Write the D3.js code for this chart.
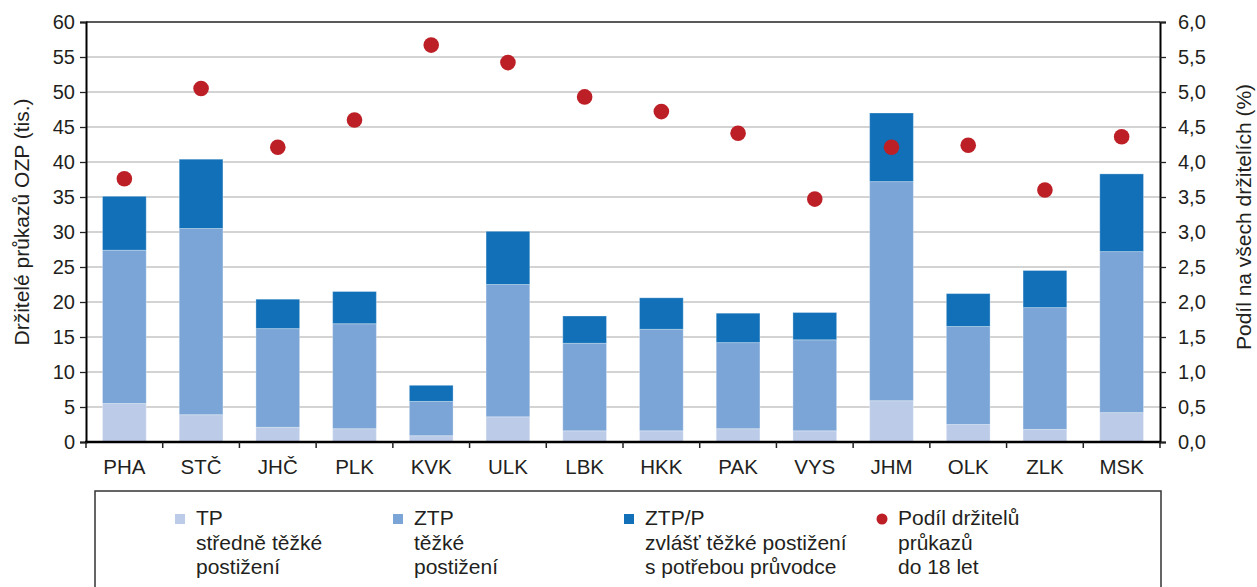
<!DOCTYPE html>
<html><head><meta charset="utf-8">
<script src="https://cdn.jsdelivr.net/npm/d3@7"></script>
<style>
body{margin:0;background:#fff;}
svg{display:block;font-family:"Liberation Sans",Arial,sans-serif;}
</style></head>
<body><svg id="c" width="1257" height="587"></svg>
<script>
const categories = ["PHA","STČ","JHČ","PLK","KVK","ULK","LBK","HKK","PAK","VYS","JHM","OLK","ZLK","MSK"];
const tpValues   = [5.5, 3.9, 2.1, 1.9, 0.9, 3.6, 1.6, 1.6, 1.9, 1.6, 5.9, 2.5, 1.8, 4.2];
const ztpValues  = [21.9, 26.6, 14.1, 15.0, 4.9, 18.9, 12.5, 14.5, 12.3, 13.0, 31.3, 14.0, 17.4, 23.0];
const ztppValues = [7.7, 9.9, 4.2, 4.6, 2.3, 7.6, 3.9, 4.5, 4.2, 3.9, 9.8, 4.7, 5.3, 11.1];
const shareValues = [3.76, 5.05, 4.21, 4.60, 5.67, 5.42, 4.93, 4.72, 4.41, 3.47, 4.21, 4.24, 3.60, 4.36];
const leftTicks = [0,5,10,15,20,25,30,35,40,45,50,55,60];
const rightTicks = [0,0.5,1,1.5,2,2.5,3,3.5,4,4.5,5,5.5,6];
const seriesKeys = ["TP","ZTP","ZTP/P"];
const seriesColors = ["#bccbe8","#7ba5d6","#1170b8"];
const dotColor = "#bd1f26";
const legendLines = [
  ["TP","středně těžké","postižení"],
  ["ZTP","těžké","postižení"],
  ["ZTP/P","zvlášť těžké postižení","s potřebou průvodce"],
  ["Podíl držitelů","průkazů","do 18 let"]
];

const FS = 20, FX = 20.5, FT = 21, FL = 21;
const svg = d3.select("#c");
const L = 86, R = 1160, T = 22, B = 442;
const textColor = "#231f20";

const x = d3.scaleBand().domain(categories).range([L, R]).paddingInner(0.43).paddingOuter(0.215);
const y = d3.scaleLinear().domain([0, 60]).range([B, T]);
const y2 = d3.scaleLinear().domain([0, 6]).range([B, T]);

// gridlines
svg.append("g").selectAll("line").data(leftTicks.filter(d => d > 0 && d < 60)).join("line")
  .attr("x1", L).attr("x2", R).attr("y1", d => y(d)).attr("y2", d => y(d))
  .attr("stroke", "#c4c4c4").attr("stroke-width", 1.3);

// stacked bars
const rows = categories.map((c, i) => ({cat: c, "TP": tpValues[i], "ZTP": ztpValues[i], "ZTP/P": ztppValues[i]}));
const stacked = d3.stack().keys(seriesKeys)(rows);
svg.append("g").selectAll("g").data(stacked).join("g")
  .attr("fill", (d, i) => seriesColors[i])
  .selectAll("rect").data(d => d).join("rect")
  .attr("x", d => x(d.data.cat)).attr("width", x.bandwidth())
  .attr("y", d => y(d[1])).attr("height", d => y(d[0]) - y(d[1]))
  .attr("stroke", "rgba(255,255,255,0.3)").attr("stroke-width", 1);

// dots
svg.append("g").selectAll("circle").data(shareValues).join("circle")
  .attr("cx", (d, i) => x(categories[i]) + x.bandwidth() / 2)
  .attr("cy", d => y2(d)).attr("r", 7.8).attr("fill", dotColor);

// top frame
svg.append("line").attr("x1", L).attr("x2", R).attr("y1", T).attr("y2", T)
  .attr("stroke", "#222").attr("stroke-width", 1.5);

// left axis
const gl = svg.append("g").attr("transform", `translate(${L},0)`)
  .call(d3.axisLeft(y).tickValues(leftTicks).tickSize(6).tickPadding(5).tickFormat(d3.format("d")));
gl.select(".domain").attr("stroke", "#000").attr("stroke-width", 2);
gl.selectAll(".tick line").attr("stroke", "#222").attr("stroke-width", 1.3);
gl.selectAll(".tick text").attr("font-size", FS).attr("fill", textColor).attr("font-family", "Liberation Sans, Arial, sans-serif");

// right axis
const fmtComma = d => d.toFixed(1).replace(".", ",");
const gr = svg.append("g").attr("transform", `translate(${R},0)`)
  .call(d3.axisRight(y2).tickValues(rightTicks).tickSize(6).tickPadding(12).tickFormat(fmtComma));
gr.select(".domain").attr("stroke", "#000").attr("stroke-width", 2);
gr.selectAll(".tick line").attr("stroke", "#222").attr("stroke-width", 1.3);
gr.selectAll(".tick text").attr("font-size", FS).attr("fill", textColor).attr("font-family", "Liberation Sans, Arial, sans-serif");

// bottom axis
const gb = svg.append("g").attr("transform", `translate(0,${B})`)
  .call(d3.axisBottom(x).tickSize(0).tickPadding(17.5));
gb.select(".domain").remove();
gb.selectAll(".tick text").attr("font-size", FX).attr("fill", textColor).attr("font-family", "Liberation Sans, Arial, sans-serif");
svg.append("line").attr("x1", L - 1).attr("x2", R + 1).attr("y1", B).attr("y2", B)
  .attr("stroke", "#000").attr("stroke-width", 2.5);
const bounds = d3.range(categories.length + 1).map(i => L + i * x.step());
svg.append("g").selectAll("line").data(bounds).join("line")
  .attr("x1", d => d).attr("x2", d => d).attr("y1", B).attr("y2", B + 6)
  .attr("stroke", "#222").attr("stroke-width", 1.5);

// axis titles
svg.append("text").attr("transform", `translate(29,222) rotate(-90)`)
  .attr("text-anchor", "middle").attr("font-size", FT).attr("fill", textColor)
  .text("Držitelé průkazů OZP (tis.)");
svg.append("text").attr("transform", `translate(1251,217) rotate(-90)`)
  .attr("text-anchor", "middle").attr("font-size", FT).attr("fill", textColor)
  .text("Podíl na všech držitelích (%)");

// legend
svg.append("rect").attr("x", 95).attr("y", 491).attr("width", 1066).attr("height", 120)
  .attr("fill", "none").attr("stroke", "#333").attr("stroke-width", 1.5);
const legendX = [180, 398, 629, 882];
const lg = svg.append("g").selectAll("g").data(legendLines).join("g")
  .attr("transform", (d, i) => `translate(${legendX[i]},0)`);
lg.each(function(d, i) {
  const g = d3.select(this);
  if (i < 3) {
    g.append("rect").attr("x", -5).attr("y", 514).attr("width", 10).attr("height", 10).attr("fill", seriesColors[i]);
  } else {
    g.append("circle").attr("cx", 0).attr("cy", 519).attr("r", 5.5).attr("fill", dotColor);
  }
  g.selectAll("text").data(d).join("text")
    .attr("x", 16).attr("y", (t, j) => 525 + j * 24.5)
    .attr("font-size", FL).attr("fill", textColor).text(t => t);
});
</script></body></html>
